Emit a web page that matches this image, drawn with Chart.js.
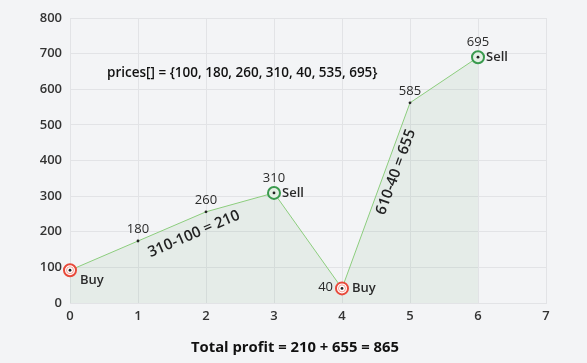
<!DOCTYPE html>
<html>
<head>
<meta charset="utf-8">
<script src="https://cdn.jsdelivr.net/npm/chart.js@4"></script>
<style>
  html, body { margin: 0; padding: 0; background: #f3f4f6; }
  #wrap { width: 587px; height: 363px; }
</style>
</head>
<body>
<div id="wrap"><canvas id="chart" width="587" height="363"></canvas></div>
<script>
// values
const days = [0, 1, 2, 3, 4, 5, 6];
const prices = [92, 174, 256, 309, 41, 562, 690];
const priceLabels = ['', '180', '260', '310', '40', '585', '695'];
const actions = ['Buy', '', '', 'Sell', 'Buy', '', 'Sell'];
const yTicks = [0, 100, 200, 300, 400, 500, 600, 700, 800];
const xTicks = [0, 1, 2, 3, 4, 5, 6, 7];

const FONT = '"Open Sans", "Noto Sans", sans-serif';
const RED = '#e8493a';
const GREEN = '#3a9a4e';

function ringColor(a) {
    return a === 'Buy' ? RED : a === 'Sell' ? GREEN : '#222';
}

// text, markers and annotations on top of the line
const annotate = {
    id: 'annotate',
    afterDatasetsDraw(chart) {
        const ctx = chart.ctx;
        const xs = chart.scales.x;
        const ys = chart.scales.y;
        ctx.save();

        days.forEach((d, i) => {
            const px = xs.getPixelForValue(d);
            const py = ys.getPixelForValue(prices[i]);
            if (actions[i] === 'Buy') {
                ctx.strokeStyle = 'rgba(232,73,58,0.5)';
                ctx.lineWidth = 1;
                ctx.beginPath();
                ctx.arc(px, py, 3.5, 0, Math.PI * 2);
                ctx.stroke();
            }
            ctx.fillStyle = '#222';
            ctx.beginPath();
            ctx.arc(px, py, 1.4, 0, Math.PI * 2);
            ctx.fill();

            ctx.font = '500 13px ' + FONT;
            ctx.fillStyle = '#2a2a2a';
            if (priceLabels[i]) {
                if (actions[i] === 'Buy') {
                    ctx.textAlign = 'right';
                    ctx.textBaseline = 'middle';
                    ctx.fillText(priceLabels[i], px - 9, py - 1);
                } else {
                    ctx.textAlign = 'center';
                    ctx.textBaseline = 'bottom';
                    ctx.fillText(priceLabels[i], px, py - (actions[i] ? 8 : 5));
                }
            }
            if (actions[i]) {
                ctx.font = '600 13px ' + FONT;
                ctx.textAlign = 'left';
                ctx.textBaseline = 'middle';
                const dy = i === 0 ? 10 : 0;
                ctx.fillText(actions[i], px + (actions[i] === 'Sell' ? 8 : 10), py + dy);
            }
        });

        // profit labels along the rising segments
        function segLabel(text, a, b, cx, cy) {
            const x1 = xs.getPixelForValue(days[a]), y1 = ys.getPixelForValue(prices[a]);
            const x2 = xs.getPixelForValue(days[b]), y2 = ys.getPixelForValue(prices[b]);
            const ang = Math.atan2(y2 - y1, x2 - x1);
            ctx.save();
            ctx.translate(cx, cy);
            ctx.rotate(ang);
            ctx.font = '600 15px ' + FONT;
            ctx.textAlign = 'center';
            ctx.textBaseline = 'middle';
            ctx.fillStyle = '#222';
            ctx.fillText(text, 0, 0);
            ctx.restore();
        }
        segLabel('310-100 = 210', 0, 2, 194, 234);
        segLabel('610-40 = 655', 4, 5, 396, 172);

        ctx.font = '600 13.5px ' + FONT;
        ctx.textAlign = 'left';
        ctx.textBaseline = 'middle';
        ctx.fillStyle = '#111';
        ctx.fillText('prices[] = {100, 180, 260, 310, 40, 535, 695}', 107, 73);

        ctx.font = 'bold 14.8px ' + FONT;
        ctx.textAlign = 'center';
        ctx.fillText('Total profit = 210 + 655 = 865', 295, 348);
        ctx.restore();
    }
};

new Chart(document.getElementById('chart'), {
    type: 'line',
    data: {
        datasets: [{
            data: days.map((d, i) => ({ x: d, y: prices[i] })),
            borderColor: 'rgb(140, 205, 125)',
            borderWidth: 1,
            fill: 'origin',
            backgroundColor: 'rgba(90, 160, 100, 0.09)',
            tension: 0,
            clip: false,
            pointRadius: actions.map(a => a ? 6 : 0),
            pointBorderWidth: 2,
            pointBorderColor: actions.map(ringColor),
            pointBackgroundColor: actions.map(a => a === 'Buy' ? '#ffffff' : '#e4efe5')
        }]
    },
    options: {
        responsive: false,
        animation: false,
        layout: { padding: { left: 8, right: 41, top: 18, bottom: 0 } },
        plugins: { legend: { display: false }, tooltip: { enabled: false } },
        scales: {
            x: {
                type: 'linear',
                min: 0,
                max: 7,
                afterBuildTicks: s => { s.ticks = xTicks.map(v => ({ value: v })); },
                ticks: { color: '#333', font: { family: FONT, size: 13, weight: '600' }, padding: 5 },
                grid: { color: '#e2e3e6', drawTicks: false },
                border: { color: '#e2e3e6' },
                afterFit: s => { s.height = 60; }
            },
            y: {
                min: 0,
                max: 800,
                afterBuildTicks: s => { s.ticks = yTicks.map(v => ({ value: v })); },
                ticks: { color: '#333', font: { family: FONT, size: 13, weight: '600' }, padding: 8 },
                grid: { color: '#e2e3e6', drawTicks: false },
                border: { color: '#e2e3e6' },
                afterFit: s => { s.width = 62; }
            }
        }
    },
    plugins: [annotate]
});
</script>
</body>
</html>
